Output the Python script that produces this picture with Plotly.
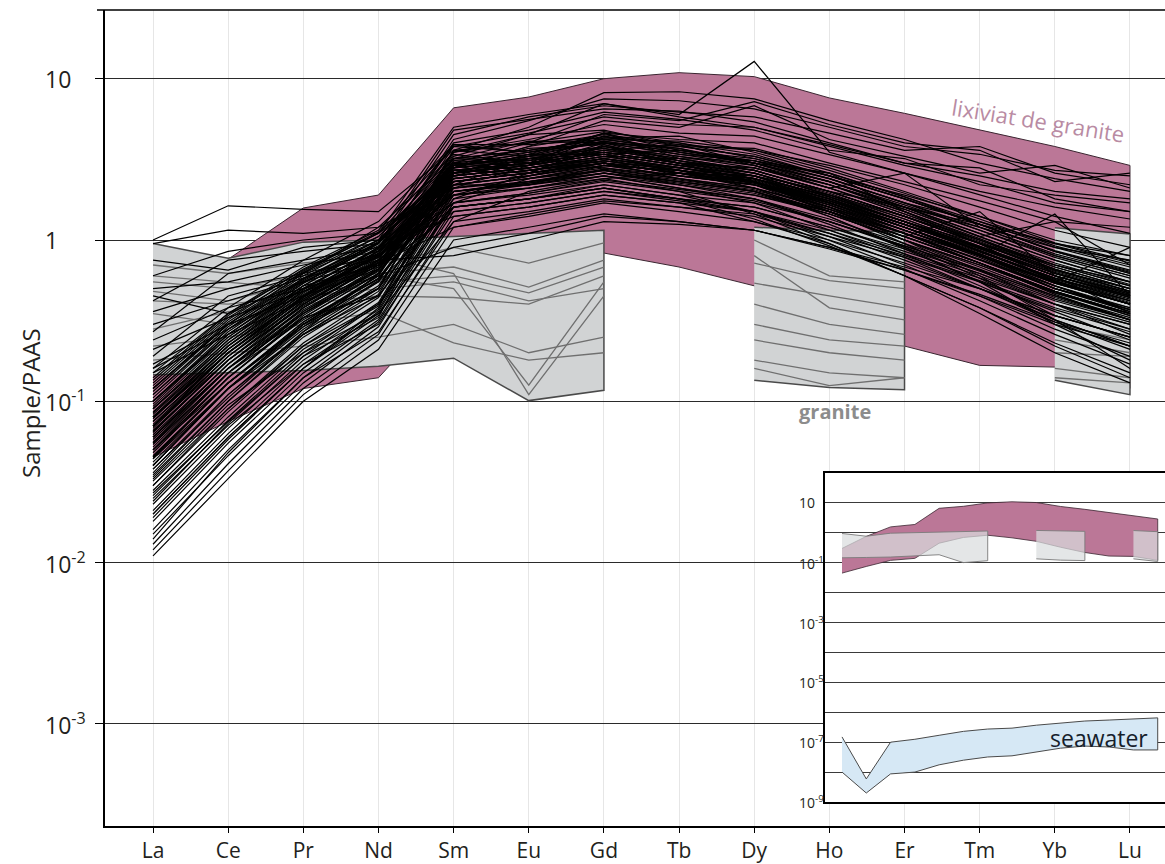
import math
import plotly.graph_objects as go

elements = ["La", "Ce", "Pr", "Nd", "Sm", "Eu", "Gd", "Tb", "Dy", "Ho", "Er", "Tm", "Yb", "Lu"]

# Envelope "lixiviat de granite"
pink_upper = [0.30, 0.76, 1.58, 1.9, 6.6, 7.7, 10.0, 10.9, 10.3, 7.6, 6.1, 4.8, 3.8, 2.9]
pink_lower = [0.045, 0.075, 0.12, 0.14, 0.45, 0.7, 0.83, 0.68, 0.52, 0.33, 0.22, 0.167, 0.163, 0.12]

# Granite envelopes (three boxes)
granite_box1_elems = ["La", "Ce", "Pr", "Nd", "Sm", "Eu", "Gd"]
granite_box1_upper = [0.95, 0.77, 0.97, 1.0, 1.05, 1.1, 1.15]
granite_box1_lower = [0.146, 0.15, 0.155, 0.165, 0.185, 0.101, 0.117]
granite_box2_elems = ["Dy", "Ho", "Er"]
granite_box2_upper = [1.2, 1.15, 1.12]
granite_box2_lower = [0.135, 0.122, 0.118]
granite_box3_elems = ["Yb", "Lu"]
granite_box3_upper = [1.19, 1.09]
granite_box3_lower = [0.135, 0.11]

# Individual granite samples (no Tb, Tm)
granite_samples = [
    [0.55, 0.5, 0.6, 0.7, 0.9, 0.72, 0.96, None, 1.0, 0.6, 0.55, None, 0.9, 0.75],
    [0.48, 0.42, 0.55, 0.62, 0.68, 0.51, 0.75, None, 0.72, 0.56, 0.5, None, 0.7, 0.55],
    [0.35, 0.3, 0.42, 0.55, 0.6, 0.47, 0.68, None, 0.54, 0.45, 0.38, None, 0.55, 0.42],
    [0.28, 0.36, 0.4, 0.45, 0.44, 0.4, 0.6, None, 0.4, 0.3, 0.26, None, 0.45, 0.32],
    [0.22, 0.25, 0.3, 0.36, 0.23, 0.18, 0.2, None, 0.3, 0.24, 0.22, None, 0.3, 0.24],
    [0.6, 0.55, 0.5, 0.6, 0.5, 0.126, 0.55, None, 0.24, 0.2, 0.18, None, 0.2, 0.19],
    [0.7, 0.62, 0.72, 0.8, 0.62, 0.11, 0.45, None, 0.18, 0.15, 0.14, None, 0.16, 0.14],
    [0.42, 0.4, 0.45, 0.5, 0.55, 0.42, 0.5, None, 0.8, 0.38, 0.32, None, 0.24, 0.2],
    [0.18, 0.2, 0.22, 0.25, 0.3, 0.2, 0.25, None, 0.16, 0.125, 0.14, None, 0.14, 0.13],
]

# Seawater envelope (inset)
seawater_upper = [1.5e-7, 5.9e-9, 1.0e-7, 1.25e-7, 1.7e-7, 2.3e-7, 2.75e-7, 2.95e-7, 3.7e-7, 4.4e-7, 5.1e-7, 5.5e-7, 6.0e-7, 6.5e-7]
seawater_lower = [1.0e-8, 2.0e-9, 8.7e-9, 1.0e-8, 1.75e-8, 2.5e-8, 3.2e-8, 3.5e-8, 4.7e-8, 6.3e-8, 7.4e-8, 6.9e-8, 5.5e-8, 5.5e-8]

# Samples (Sample/PAAS)
samples_low_la = [
    [0.011, 0.033, 0.10, 0.21, 1.0, 1.2, 1.45, 1.3, 1.15, 0.9, 0.65, 0.45, 0.3, 0.22],
    [0.012, 0.037, 0.11, 0.24, 1.2, 1.4, 1.7, 1.5, 1.3, 1.0, 0.72, 0.5, 0.34, 0.25],
    [0.013, 0.041, 0.12, 0.26, 1.4, 1.6, 1.9, 1.7, 1.5, 1.15, 0.82, 0.58, 0.4, 0.3],
    [0.015, 0.046, 0.13, 0.29, 1.6, 1.8, 2.2, 1.9, 1.7, 1.3, 0.92, 0.65, 0.45, 0.33],
    [0.016, 0.050, 0.14, 0.27, 1.3, 1.5, 1.8, 1.6, 1.45, 1.1, 0.8, 0.56, 0.38, 0.28],
    [0.018, 0.055, 0.15, 0.32, 1.8, 2.1, 2.5, 2.2, 1.9, 1.45, 1.0, 0.7, 0.47, 0.35],
    [0.020, 0.060, 0.16, 0.34, 1.9, 2.2, 2.6, 2.3, 2.0, 1.5, 1.05, 0.72, 0.48, 0.35],
    [0.021, 0.063, 0.17, 0.30, 1.5, 1.7, 2.0, 1.8, 1.6, 1.2, 0.88, 0.62, 0.42, 0.31],
    [0.023, 0.068, 0.18, 0.37, 2.1, 2.4, 2.9, 2.5, 2.2, 1.65, 1.15, 0.8, 0.54, 0.4],
    [0.025, 0.071, 0.17, 0.35, 1.7, 1.95, 2.3, 2.0, 1.75, 1.3, 0.92, 0.64, 0.43, 0.32],
    [0.026, 0.076, 0.20, 0.41, 2.3, 2.6, 3.1, 2.7, 2.35, 1.75, 1.25, 0.86, 0.58, 0.43],
    [0.028, 0.080, 0.21, 0.39, 2.0, 2.25, 2.7, 2.35, 2.05, 1.5, 1.05, 0.72, 0.48, 0.35],
    [0.030, 0.086, 0.22, 0.44, 2.4, 2.7, 3.2, 2.8, 2.4, 1.8, 1.3, 0.9, 0.6, 0.45],
    [0.014, 0.048, 0.14, 0.31, 1.7, 1.95, 2.35, 2.05, 1.8, 1.35, 0.95, 0.66, 0.44, 0.32],
    [0.019, 0.058, 0.16, 0.36, 2.0, 2.3, 2.75, 2.4, 2.1, 1.55, 1.1, 0.76, 0.5, 0.37],
    [0.024, 0.073, 0.19, 0.40, 2.2, 2.5, 3.0, 2.6, 2.25, 1.7, 1.2, 0.82, 0.55, 0.4],
]

samples_main = [
    [0.032, 0.09, 0.22, 0.40, 1.6, 1.8, 2.1, 1.8, 1.6, 1.2, 0.85, 0.6, 0.4, 0.3],
    [0.034, 0.10, 0.25, 0.48, 2.2, 2.2, 2.9, 2.7, 2.1, 1.6, 1.1, 0.75, 0.5, 0.37],
    [0.036, 0.11, 0.27, 0.52, 2.5, 3.2, 3.0, 2.8, 2.4, 1.8, 1.25, 0.85, 0.58, 0.42],
    [0.038, 0.11, 0.26, 0.45, 1.9, 2.1, 2.5, 2.1, 1.8, 1.3, 0.9, 0.62, 0.4, 0.28],
    [0.040, 0.12, 0.28, 0.55, 2.7, 2.6, 3.9, 3.1, 2.7, 2.0, 1.4, 0.95, 0.65, 0.5],
    [0.042, 0.12, 0.30, 0.58, 2.3, 2.6, 3.0, 2.6, 2.2, 1.6, 1.1, 0.72, 0.48, 0.34],
    [0.044, 0.13, 0.31, 0.60, 2.9, 3.3, 3.5, 3.6, 3.0, 2.3, 1.6, 1.1, 0.75, 0.55],
    [0.046, 0.13, 0.29, 0.50, 2.0, 2.2, 2.6, 2.3, 2.0, 1.5, 1.05, 0.72, 0.48, 0.35],
    [0.048, 0.14, 0.33, 0.62, 2.6, 3.4, 3.4, 2.6, 2.5, 1.85, 1.3, 0.88, 0.6, 0.44],
    [0.050, 0.14, 0.34, 0.65, 3.1, 3.0, 4.6, 3.6, 3.1, 2.4, 1.7, 1.2, 0.82, 0.62],
    [0.052, 0.15, 0.32, 0.57, 2.1, 2.4, 2.8, 2.4, 2.1, 1.55, 1.1, 0.76, 0.52, 0.38],
    [0.054, 0.15, 0.36, 0.68, 3.4, 3.0, 3.8, 3.3, 2.9, 2.2, 1.55, 1.05, 0.72, 0.53],
    [0.056, 0.16, 0.35, 0.62, 2.4, 2.7, 3.1, 2.7, 2.3, 1.7, 1.15, 0.78, 0.5, 0.36],
    [0.058, 0.16, 0.38, 0.72, 3.2, 4.1, 4.0, 3.8, 3.3, 2.5, 1.8, 1.25, 0.85, 0.64],
    [0.060, 0.17, 0.37, 0.66, 2.5, 2.8, 3.3, 2.8, 2.4, 1.75, 1.2, 0.8, 0.52, 0.37],
    [0.062, 0.17, 0.40, 0.75, 1.9, 2.5, 3.2, 2.5, 2.2, 1.7, 1.2, 0.84, 0.58, 0.44],
    [0.064, 0.18, 0.39, 0.70, 2.7, 3.0, 3.5, 3.0, 2.5, 1.8, 1.2, 0.8, 0.52, 0.36],
    [0.066, 0.18, 0.42, 0.78, 3.0, 2.9, 4.0, 3.7, 2.9, 2.1, 1.45, 0.98, 0.66, 0.48],
    [0.068, 0.19, 0.41, 0.74, 2.3, 2.6, 3.0, 2.6, 2.3, 1.75, 1.25, 0.9, 0.62, 0.47],
    [0.070, 0.19, 0.44, 0.82, 2.8, 3.8, 4.5, 3.9, 3.0, 2.6, 1.85, 1.3, 0.9, 0.68],
    [0.072, 0.20, 0.43, 0.76, 2.6, 2.9, 3.4, 2.9, 2.5, 1.85, 1.3, 0.9, 0.6, 0.45],
    [0.075, 0.20, 0.45, 0.80, 2.0, 2.3, 2.7, 2.3, 2.0, 1.45, 1.0, 0.68, 0.45, 0.32],
    [0.078, 0.21, 0.47, 0.86, 2.9, 3.7, 3.9, 3.0, 2.8, 2.1, 1.45, 1.0, 0.68, 0.5],
    [0.080, 0.22, 0.46, 0.83, 2.5, 2.8, 3.2, 2.7, 2.3, 1.65, 1.1, 0.72, 0.46, 0.32],
    [0.083, 0.22, 0.49, 0.90, 3.9, 3.9, 4.2, 4.1, 3.6, 2.7, 1.95, 1.35, 0.92, 0.7],
    [0.086, 0.23, 0.48, 0.85, 2.4, 2.7, 3.1, 2.7, 2.3, 1.7, 1.2, 0.82, 0.55, 0.4],
    [0.090, 0.24, 0.52, 0.95, 3.0, 2.9, 4.4, 3.5, 3.0, 2.3, 1.65, 1.15, 0.8, 0.6],
    [0.093, 0.25, 0.50, 0.88, 2.8, 3.1, 3.6, 3.1, 2.6, 1.9, 1.3, 0.86, 0.56, 0.4],
    [0.096, 0.26, 0.54, 0.98, 3.5, 4.5, 4.8, 3.8, 3.7, 2.8, 2.0, 1.4, 0.96, 0.74],
    [0.10, 0.27, 0.55, 0.92, 2.3, 2.6, 3.0, 2.6, 2.3, 1.75, 1.25, 0.88, 0.6, 0.45],
    [0.105, 0.28, 0.57, 1.0, 2.6, 3.3, 4.1, 3.5, 3.0, 2.2, 1.5, 1.0, 0.66, 0.48],
    [0.11, 0.29, 0.58, 0.96, 2.7, 3.0, 3.5, 3.0, 2.6, 1.95, 1.35, 0.92, 0.62, 0.46],
    [0.115, 0.30, 0.60, 1.05, 3.2, 3.1, 4.3, 4.0, 3.2, 2.4, 1.7, 1.15, 0.78, 0.58],
    [0.12, 0.31, 0.62, 1.0, 2.5, 2.8, 3.2, 2.8, 2.4, 1.8, 1.25, 0.85, 0.56, 0.41],
    [0.125, 0.32, 0.64, 1.1, 3.5, 4.0, 4.3, 4.4, 3.5, 2.6, 1.85, 1.25, 0.85, 0.63],
    [0.13, 0.33, 0.63, 1.05, 2.9, 3.2, 3.8, 3.2, 2.7, 2.0, 1.4, 0.95, 0.64, 0.47],
    [0.135, 0.34, 0.66, 1.12, 2.6, 2.9, 3.4, 2.9, 2.5, 1.85, 1.3, 0.9, 0.6, 0.44],
    [0.14, 0.35, 0.68, 1.15, 3.8, 3.5, 4.4, 3.8, 3.3, 2.5, 1.8, 1.25, 0.86, 0.65],
    [0.050, 0.15, 0.35, 0.66, 1.5, 1.7, 2.0, 1.75, 1.5, 1.1, 0.75, 0.5, 0.32, 0.22],
    [0.065, 0.18, 0.40, 0.72, 1.6, 1.8, 2.1, 1.8, 1.5, 1.05, 0.7, 0.45, 0.28, 0.19],
    [0.08, 0.21, 0.44, 0.8, 1.7, 1.9, 2.2, 1.9, 1.5, 1.0, 0.66, 0.42, 0.26, 0.17],
    [0.045, 0.13, 0.30, 0.55, 1.6, 1.8, 2.1, 1.8, 1.35, 0.92, 0.6, 0.38, 0.23, 0.15],
    [0.07, 0.19, 0.42, 0.75, 1.9, 2.1, 2.4, 2.0, 1.45, 0.95, 0.6, 0.38, 0.22, 0.14],
    [0.055, 0.16, 0.36, 0.64, 2.0, 2.2, 2.5, 2.1, 1.7, 1.15, 0.78, 0.5, 0.31, 0.21],
    [0.09, 0.23, 0.50, 0.9, 2.1, 2.3, 2.6, 2.2, 1.8, 1.25, 0.82, 0.52, 0.32, 0.22],
]

samples_high_la = [
    [1.0, 1.63, 1.55, 1.5, 3.6, 4.0, 4.7, 4.0, 3.4, 2.5, 1.8, 1.25, 0.85, 0.62],
    [0.95, 1.15, 1.1, 1.2, 3.2, 3.6, 4.2, 3.6, 3.1, 2.3, 1.6, 1.1, 0.75, 0.55],
    [0.75, 0.65, 0.9, 1.0, 2.8, 3.1, 3.6, 3.1, 2.7, 2.0, 1.4, 0.96, 0.65, 0.48],
    [0.6, 0.85, 1.0, 1.1, 2.4, 2.7, 3.1, 2.7, 2.3, 1.7, 1.2, 0.82, 0.55, 0.4],
    [0.5, 0.55, 0.7, 0.85, 2.6, 2.9, 3.4, 2.9, 2.5, 1.85, 1.3, 0.9, 0.6, 0.44],
    [0.42, 0.75, 0.85, 0.95, 3.0, 3.4, 4.0, 3.4, 2.9, 2.1, 1.5, 1.02, 0.68, 0.5],
    [0.36, 0.5, 0.62, 0.8, 2.2, 2.5, 2.9, 2.5, 2.2, 1.6, 1.15, 0.8, 0.54, 0.4],
    [0.3, 0.42, 0.58, 0.78, 2.7, 3.0, 3.5, 3.0, 2.6, 1.9, 1.35, 0.92, 0.62, 0.45],
    [0.27, 0.62, 0.75, 0.9, 2.9, 3.2, 3.7, 3.2, 2.7, 2.0, 1.4, 0.95, 0.63, 0.46],
    [0.24, 0.38, 0.5, 0.7, 2.0, 2.25, 2.6, 2.25, 1.95, 1.45, 1.0, 0.7, 0.47, 0.34],
    [0.21, 0.33, 0.48, 0.68, 2.5, 2.8, 3.3, 2.8, 2.4, 1.8, 1.25, 0.86, 0.57, 0.42],
    [0.19, 0.45, 0.6, 0.82, 3.1, 3.5, 4.1, 3.5, 3.0, 2.2, 1.55, 1.05, 0.7, 0.52],
    [0.17, 0.3, 0.45, 0.66, 2.3, 2.6, 3.0, 2.6, 2.25, 1.65, 1.15, 0.8, 0.54, 0.4],
    [0.16, 0.28, 0.5, 0.72, 1.2, 1.45, 1.75, 1.6, 1.4, 1.05, 0.78, 0.55, 0.37, 0.27],
    [0.15, 0.26, 0.42, 0.6, 0.9, 1.1, 1.4, 1.3, 1.15, 0.88, 0.65, 0.46, 0.31, 0.23],
    [0.45, 0.35, 0.55, 0.75, 0.8, 1.0, 1.3, 1.25, 1.15, 0.9, 0.68, 0.5, 0.34, 0.25],
]

samples_high_hree = [
    [0.04, 0.12, 0.3, 0.6, 3.6, 5.0, 8.2, 8.3, 7.5, 5.5, 4.2, 3.0, 2.4, 2.0],
    [0.06, 0.16, 0.38, 0.7, 3.3, 4.5, 7.0, 6.0, 12.8, 3.5, 2.6, 1.9, 1.4, 1.1],
    [0.08, 0.2, 0.45, 0.85, 4.2, 5.5, 7.5, 7.3, 6.5, 5.0, 3.8, 3.4, 2.7, 2.5],
    [0.05, 0.14, 0.33, 0.62, 3.0, 4.0, 6.0, 5.5, 7.2, 5.2, 4.0, 3.6, 2.3, 2.6],
    [0.1, 0.26, 0.52, 0.95, 4.5, 5.8, 6.8, 6.2, 5.8, 4.6, 3.6, 3.8, 2.6, 2.2],
    [0.035, 0.1, 0.26, 0.5, 2.8, 3.8, 5.5, 5.0, 6.8, 4.2, 3.3, 2.6, 2.9, 2.1],
    [0.12, 0.3, 0.58, 1.0, 4.8, 5.6, 6.5, 6.3, 5.4, 4.0, 3.0, 2.5, 2.0, 1.8],
    [0.07, 0.18, 0.4, 0.75, 3.8, 4.6, 5.8, 5.2, 5.0, 3.8, 2.9, 2.3, 1.7, 1.5],
    [0.09, 0.24, 0.5, 0.88, 4.0, 4.8, 6.2, 5.6, 4.8, 3.6, 3.2, 2.2, 1.9, 1.7],
    [0.055, 0.15, 0.35, 0.66, 3.5, 4.2, 5.2, 4.6, 4.4, 3.4, 2.6, 2.0, 1.6, 1.35],
    [0.03, 0.09, 0.23, 0.46, 2.6, 3.4, 4.6, 4.2, 4.0, 3.0, 2.3, 1.75, 1.3, 1.2],
    [0.15, 0.35, 0.65, 1.1, 5.0, 6.0, 7.0, 5.8, 5.0, 3.9, 3.0, 2.8, 1.8, 1.5],
]

samples_zigzag = [
    [0.06, 0.17, 0.38, 0.7, 2.6, 2.9, 3.4, 2.9, 2.4, 1.7, 1.15, 0.8, 1.45, 0.45],
    [0.08, 0.21, 0.45, 0.82, 2.9, 3.3, 3.8, 3.3, 2.8, 2.1, 2.6, 1.2, 0.8, 0.6],
    [0.04, 0.12, 0.29, 0.56, 2.4, 2.7, 3.2, 2.7, 2.3, 1.55, 1.05, 1.5, 0.6, 0.35],
    [0.1, 0.26, 0.54, 0.95, 3.2, 3.6, 4.2, 3.7, 3.0, 2.3, 1.6, 1.05, 1.3, 0.7],
    [0.065, 0.18, 0.4, 0.73, 2.5, 2.8, 3.3, 3.2, 3.1, 2.6, 1.5, 0.95, 0.55, 0.9],
    [0.11, 0.28, 0.56, 0.96, 2.9, 3.2, 3.7, 3.0, 2.2, 1.5, 0.95, 0.58, 0.34, 0.25],
    [0.045, 0.13, 0.31, 0.58, 2.2, 2.5, 3.0, 2.6, 2.1, 1.4, 0.9, 0.55, 0.3, 0.18],
    [0.075, 0.2, 0.43, 0.8, 2.7, 3.0, 3.5, 3.0, 2.3, 1.5, 1.0, 0.6, 0.32, 0.16],
]

samples_irregular = [
    [0.033, 0.095, 0.2, 0.35, 1.3, 2.0, 2.4, 2.6, 2.4, 1.9, 1.3, 0.95, 0.7, 0.55],
    [0.05, 0.13, 0.3, 0.5, 2.9, 2.4, 2.7, 2.2, 1.9, 1.5, 1.1, 0.8, 0.55, 0.42],
    [0.085, 0.22, 0.48, 0.78, 2.2, 3.2, 3.4, 3.6, 3.2, 2.5, 1.9, 1.4, 1.0, 0.8],
    [0.038, 0.105, 0.27, 0.62, 3.6, 3.3, 4.6, 3.2, 2.6, 1.9, 1.4, 1.0, 0.7, 0.52],
    [0.12, 0.3, 0.62, 1.2, 2.1, 2.9, 3.6, 3.9, 3.6, 2.9, 2.2, 1.6, 1.15, 0.9],
    [0.06, 0.16, 0.33, 0.45, 1.8, 2.6, 3.8, 3.0, 2.8, 2.2, 1.6, 1.2, 0.9, 0.75],
    [0.027, 0.075, 0.19, 0.33, 2.6, 3.0, 2.8, 2.5, 2.3, 1.6, 1.0, 0.65, 0.4, 0.26],
    [0.1, 0.25, 0.52, 0.7, 1.7, 2.4, 2.9, 2.7, 2.5, 2.0, 1.6, 1.25, 0.95, 0.8],
    [0.044, 0.12, 0.26, 0.5, 3.0, 2.7, 3.0, 2.4, 2.0, 1.4, 0.88, 0.55, 0.36, 0.24],
    [0.07, 0.2, 0.45, 0.9, 1.4, 1.6, 1.9, 1.7, 1.3, 0.95, 0.6, 0.35, 0.2, 0.13],
    [0.02, 0.06, 0.16, 0.38, 2.8, 3.5, 4.0, 3.1, 2.5, 1.7, 1.2, 0.8, 0.5, 0.38],
    [0.16, 0.38, 0.75, 1.3, 3.9, 3.5, 4.0, 3.4, 3.1, 2.4, 1.7, 1.3, 0.95, 0.72],
]

main_ticks = [10, 1, 0.1, 0.01, 0.001]
main_tick_text = ["10", "1", "10<sup>-1</sup>", "10<sup>-2</sup>", "10<sup>-3</sup>"]
inset_ticks = [10, 0.1, 1e-3, 1e-5, 1e-7, 1e-9]
inset_tick_text = ["10", "10<sup>-1</sup>", "10<sup>-3</sup>", "10<sup>-5</sup>", "10<sup>-7</sup>", "10<sup>-9</sup>"]
inset_grid = [10, 1, 0.1, 1e-2, 1e-3, 1e-4, 1e-5, 1e-6, 1e-7, 1e-8, 1e-9]

PINK = "#bb7797"
PINK_EDGE = "#3a2530"
GRAY_FILL = "#d1d3d4"
GRAY_EDGE = "#4a4a4a"
FONT = "Open Sans"

fig = go.Figure()


def band(elems, upper, lower, fill, edge, width, xa, ya):
    return go.Scatter(
        x=list(elems) + list(elems[::-1]),
        y=list(upper) + list(lower[::-1]),
        fill="toself", fillcolor=fill, mode="lines",
        line=dict(color=edge, width=width), hoverinfo="skip",
        xaxis=xa, yaxis=ya,
    )


# --- main panel ---
fig.add_trace(band(elements, pink_upper, pink_lower, PINK, PINK_EDGE, 1, "x", "y"))
for el, up, lo in [(granite_box1_elems, granite_box1_upper, granite_box1_lower),
                   (granite_box2_elems, granite_box2_upper, granite_box2_lower),
                   (granite_box3_elems, granite_box3_upper, granite_box3_lower)]:
    fig.add_trace(band(el, up, lo, GRAY_FILL, GRAY_EDGE, 1.5, "x", "y"))
for row in granite_samples:
    fig.add_trace(go.Scatter(x=elements, y=row, mode="lines",
                             line=dict(color="#6f6f6f", width=1.3),
                             connectgaps=False, hoverinfo="skip", xaxis="x", yaxis="y"))
for group in [samples_low_la, samples_main, samples_high_la, samples_high_hree,
              samples_zigzag, samples_irregular]:
    for row in group:
        fig.add_trace(go.Scatter(x=elements, y=row, mode="lines",
                                 line=dict(color="black", width=1.2),
                                 hoverinfo="skip", xaxis="x", yaxis="y"))

# --- inset panel ---
fig.add_trace(band(elements, pink_upper, pink_lower, PINK, PINK_EDGE, 0.8, "x2", "y2"))
for el, up, lo in [(granite_box1_elems, granite_box1_upper, granite_box1_lower),
                   (granite_box2_elems, granite_box2_upper, granite_box2_lower),
                   (granite_box3_elems, granite_box3_upper, granite_box3_lower)]:
    fig.add_trace(band(el, up, lo, "rgba(218,220,222,0.72)", "#7a7a7a", 0.9, "x2", "y2"))
fig.add_trace(band(elements, seawater_upper, seawater_lower, "#d6e8f5", "#4a4a4a", 1, "x2", "y2"))

x_px0, x_px1 = 105, 1165
y_px0, y_px1 = 10, 826


def px_to_paper_x(px):
    return (px - x_px0) / (x_px1 - x_px0)


def px_to_paper_y(py):
    return (y_px1 - py) / (y_px1 - y_px0)


fig.update_layout(
    width=1165, height=864,
    margin=dict(l=x_px0, r=1165 - x_px1, t=y_px0, b=864 - y_px1, autoexpand=False),
    paper_bgcolor="white", plot_bgcolor="white", showlegend=False,
    font=dict(family=FONT, color="#231f20"),
    xaxis=dict(type="category", categoryorder="array", categoryarray=elements,
               range=[-0.639, 13.466], domain=[0, 1], anchor="y", automargin=False,
               showgrid=True, gridcolor="#e6e6e6", gridwidth=1,
               showline=True, linecolor="black", linewidth=2.4,
               ticks="outside", ticklen=5, tickwidth=1.2, tickcolor="black",
               tickfont=dict(size=21, family=FONT, color="#231f20"), zeroline=False),
    yaxis=dict(type="log", range=[-3.633, 1.426], domain=[0, 1], anchor="x", automargin=False,
               tickvals=main_ticks, showticklabels=False,
               showgrid=True, gridcolor="#2a2a2a", gridwidth=1.3,
               showline=True, linecolor="black", linewidth=2.4,
               ticks="outside", ticklen=8, tickwidth=1.3, tickcolor="black", zeroline=False),
    xaxis2=dict(type="category", categoryorder="array", categoryarray=elements,
                range=[-0.7, 13.3], domain=[px_to_paper_x(825), 1], anchor="y2",
                showgrid=False, showticklabels=False, ticks="", automargin=False,
                showline=True, linecolor="black", linewidth=2, mirror=True, zeroline=False),
    yaxis2=dict(type="log", range=[-9, 2], domain=[px_to_paper_y(802), px_to_paper_y(473)],
                anchor="x2", tickvals=inset_grid, showticklabels=False, ticks="", automargin=False,
                showgrid=True, gridcolor="#3a3a3a", gridwidth=1,
                showline=True, linecolor="black", linewidth=2, zeroline=False),
)

# top frame line of the main panel
fig.add_shape(type="line", xref="paper", yref="paper",
              x0=px_to_paper_x(97), x1=1, y0=1, y1=1,
              line=dict(color="black", width=1.5))

annotations = []
for v, t in zip(main_ticks, main_tick_text):
    annotations.append(dict(x=px_to_paper_x(43), xref="paper", y=math.log10(v), yref="y",
                            text=t, showarrow=False, xanchor="left", yanchor="middle",
                            font=dict(size=23, family=FONT, color="#231f20")))
for v, t in zip(inset_ticks, inset_tick_text):
    annotations.append(dict(x=px_to_paper_x(797), xref="paper", y=math.log10(v), yref="y2",
                            text=t, showarrow=False, xanchor="left", yanchor="middle",
                            font=dict(size=14, family=FONT, color="#231f20")))
annotations += [
    dict(x=px_to_paper_x(31), y=px_to_paper_y(403), xref="paper", yref="paper",
         text="Sample/PAAS", textangle=-90, showarrow=False,
         xanchor="center", yanchor="middle",
         font=dict(size=24, family=FONT, color="#231f20")),
    dict(x=px_to_paper_x(1038), y=px_to_paper_y(120), xref="paper", yref="paper",
         text="lixiviat de granite", textangle=9, showarrow=False,
         xanchor="center", yanchor="middle",
         font=dict(size=22, family=FONT, color="#b98ba3")),
    dict(x=px_to_paper_x(835), y=px_to_paper_y(411), xref="paper", yref="paper",
         text="<b>granite</b>", showarrow=False,
         xanchor="center", yanchor="middle",
         font=dict(size=20, family=FONT, color="#8c8c8c")),
    dict(x=px_to_paper_x(1099), y=px_to_paper_y(738), xref="paper", yref="paper",
         text="seawater", showarrow=False,
         xanchor="center", yanchor="middle",
         font=dict(size=23, family=FONT, color="#15202b")),
]
fig.update_layout(annotations=annotations)

fig.write_html(
    "out.html",
    config={"displayModeBar": False},
    post_script="document.body.style.margin='0px';document.body.style.overflow='hidden';",
)
